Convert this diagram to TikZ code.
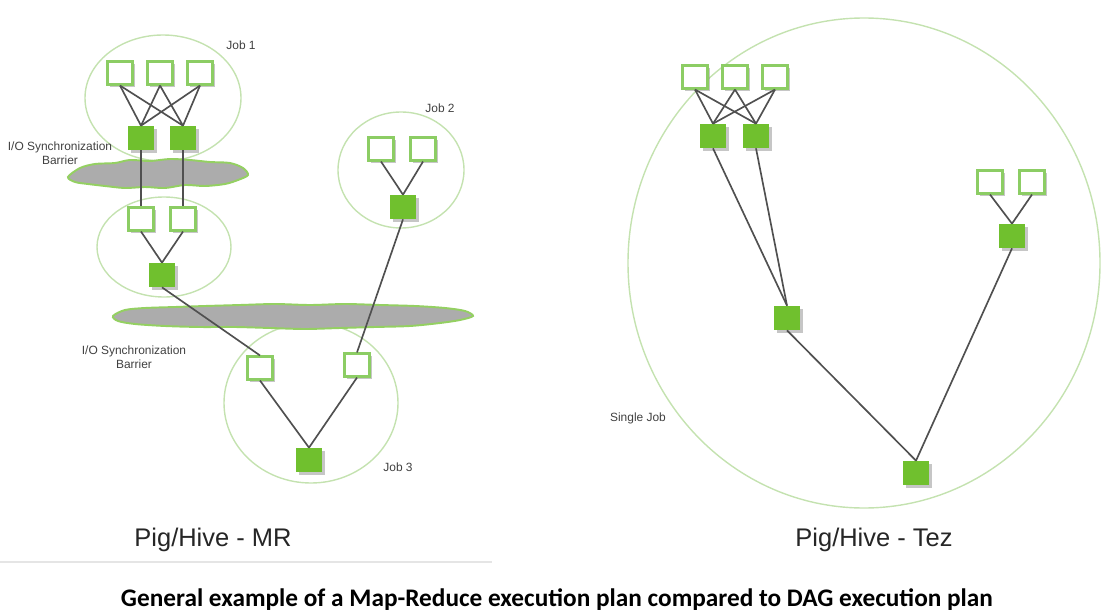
\documentclass[tikz,border=0pt]{standalone}
\usepackage{fontspec}
\setmainfont{Liberation Sans}
\newfontfamily\captionfont{Carlito}
\usetikzlibrary{shadows}

\definecolor{taskgreen}{RGB}{112,192,46}
\definecolor{boxedge}{RGB}{140,205,100}
\definecolor{ringgreen}{RGB}{196,226,176}
\definecolor{edgegray}{RGB}{80,80,80}
\definecolor{barriergray}{RGB}{172,172,172}

\tikzset{
    mapbox/.style={draw=boxedge, line width=1.2pt, fill=white, minimum width=0.50cm, minimum height=0.46cm,
        inner sep=0pt, drop shadow={shadow xshift=1.5pt, shadow yshift=-1.5pt, fill=gray, opacity=0.45}},
    redbox/.style={fill=taskgreen, minimum width=0.52cm, minimum height=0.48cm, inner sep=0pt,
        drop shadow={shadow xshift=1.5pt, shadow yshift=-1.5pt, fill=gray, opacity=0.45}},
    jobring/.style={draw=ringgreen, line width=0.8pt},
    barrier/.style={draw=taskgreen!75, line width=1.1pt, fill=barriergray},
    flow/.style={draw=edgegray, line width=0.95pt},
    tag/.style={font=\fontsize{6.8}{8}\selectfont, text=black!75, align=center},
    title/.style={font=\fontsize{14.5}{16}\selectfont, text=black!85}
}

\begin{document}
\begin{tikzpicture}[x=0.02cm, y=-0.02cm]
\useasboundingbox (0,0) rectangle (1115,615);

% Job rings
\draw[jobring] (163,98) ellipse [x radius=78, y radius=63];
\draw[jobring] (164,247) ellipse [x radius=67, y radius=50];
\draw[jobring] (401,170) ellipse [x radius=63, y radius=58];
\draw[jobring] (311,403) ellipse [x radius=87, y radius=80];
\draw[jobring] (864,263) ellipse [x radius=236, y radius=245];

% Synchronization barriers
\draw[barrier] plot[smooth cycle] coordinates {
    (68,177) (80,168) (95,164) (115,163) (130,160) (150,161) (170,159) (190,160) (210,162)
    (230,163) (243,168) (248,175) (238,180) (225,184) (205,186) (185,185) (165,188)
    (145,187) (125,188) (105,186) (88,184) (75,182)};
\draw[barrier] plot[smooth cycle] coordinates {
    (113,316) (125,310) (145,308) (175,307) (205,306) (240,305) (275,304) (310,305)
    (345,304) (380,305) (415,306) (445,308) (465,311) (473,316) (460,320) (440,323)
    (410,326) (375,327) (340,328) (305,329) (270,328) (235,327) (200,327) (165,326)
    (135,324) (118,321)};

% Pig/Hive - MR
\node[mapbox] (m1) at (120,73) {};
\node[mapbox] (m2) at (160,73) {};
\node[mapbox] (m3) at (200,73) {};
\node[redbox] (r1) at (141,138) {};
\node[redbox] (r2) at (183,138) {};

\node[mapbox] (m4) at (141,219) {};
\node[mapbox] (m5) at (183,219) {};
\node[redbox] (r3) at (162,275) {};

\node[mapbox] (m6) at (381,149) {};
\node[mapbox] (m7) at (423,149) {};
\node[redbox] (r4) at (403,207) {};

\node[mapbox] (m8) at (260,368) {};
\node[mapbox] (m9) at (357,365) {};
\node[redbox] (r5) at (309,460) {};

\foreach \m in {m1,m2,m3} {
    \foreach \r in {r1,r2} {
        \draw[flow] (\m.south) -- (\r.north);
    }
}
\draw[flow] (r1.south) -- (m4.north);
\draw[flow] (r2.south) -- (m5.north);
\draw[flow] (m4.south) -- (r3.north);
\draw[flow] (m5.south) -- (r3.north);
\draw[flow] (m6.south) -- (r4.north);
\draw[flow] (m7.south) -- (r4.north);
\draw[flow] (r3.south) -- (m8.north);
\draw[flow] (r4.south) -- (m9.north);
\draw[flow] (m8.south) -- (r5.north);
\draw[flow] (m9.south) -- (r5.north);

\node[tag] (job1) at (241,45) {Job 1};
\node[tag] (job2) at (440,108) {Job 2};
\node[tag] (job3) at (398,467) {Job 3};
\node[tag] (lab1) at (60,153) {I/O Synchronization\\Barrier};
\node[tag] (lab2) at (134,357) {I/O Synchronization\\Barrier};
\node[title] (mr) at (213,540) {Pig/Hive - MR};

% Pig/Hive - Tez
\node[mapbox] (t1) at (695,77) {};
\node[mapbox] (t2) at (735,77) {};
\node[mapbox] (t3) at (775,77) {};
\node[redbox] (u1) at (713,136) {};
\node[redbox] (u2) at (756,136) {};
\node[mapbox] (t4) at (990,182) {};
\node[mapbox] (t5) at (1032,182) {};
\node[redbox] (u3) at (1012,236) {};
\node[redbox] (u4) at (787,318) {};
\node[redbox] (u5) at (916,473) {};

\foreach \t in {t1,t2,t3} {
    \foreach \u in {u1,u2} {
        \draw[flow] (\t.south) -- (\u.north);
    }
}
\draw[flow] (u1.south) -- (u4.north);
\draw[flow] (u2.south) -- (u4.north);
\draw[flow] (t4.south) -- (u3.north);
\draw[flow] (t5.south) -- (u3.north);
\draw[flow] (u4.south) -- (u5.north);
\draw[flow] (u3.south) -- (u5.north);

\node[tag] (single) at (638,418) {Single Job};
\node[title] (tez) at (874,540) {Pig/Hive - Tez};

% separator and caption
\draw[black!10, line width=0.6pt] (0,562) -- (492,562);
\node[font=\captionfont\bfseries\fontsize{14.4}{16}\selectfont] (cap) at (557,600)
    {General example of a Map-Reduce execution plan compared to DAG execution plan};

\end{tikzpicture}
\end{document}
